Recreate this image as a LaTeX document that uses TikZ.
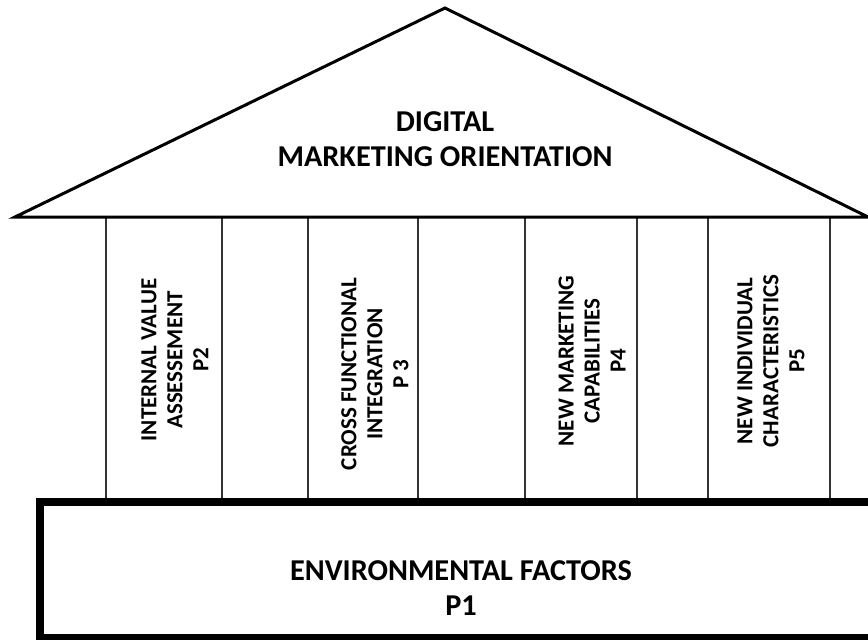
\documentclass[tikz,border=0pt]{standalone}
\usepackage{fontspec}
\setmainfont{Carlito}
\begin{document}
\begin{tikzpicture}[x=1pt,y=-1pt,
  roofline/.style={line width=3pt,line join=miter},
  pillar/.style={draw=black!80,line width=1.2pt},
  basebox/.style={draw=black,line width=8pt},
  bigtext/.style={font=\fontsize{30.3}{35}\selectfont\bfseries,align=center,inner sep=0pt},
  pillartext/.style={font=\fontsize{23}{26}\selectfont\bfseries,align=center,inner sep=0pt,rotate=90}]
  \useasboundingbox (0,0) rectangle (868,640);
  % roof
  \coordinate (apex) at (445,8);
  \coordinate (eaveL) at (15,217);
  \coordinate (eaveR) at (868,217);
  % pillars
  \draw[pillar] (106,217) rectangle (222,501);
  \draw[pillar] (308,217) rectangle (418,501);
  \draw[pillar] (525,217) rectangle (637,501);
  \draw[pillar] (708,217) rectangle (830,501);
  \draw[roofline] (eaveL) -- (apex) -- (eaveR) -- cycle;
  \node[bigtext] (roof) at (445,139.5) {DIGITAL\\MARKETING ORIENTATION};
  % base
  \draw[basebox] (39.5,501.5) rectangle (874,638);
  \node[bigtext] (base) at (461,588) {ENVIRONMENTAL FACTORS\\P1};
  % pillar labels
  \node[pillartext] (p2) at (175,360) {INTERNAL VALUE\\ASSESSEMENT\\P2};
  \node[pillartext] (p3) at (375,374) {CROSS FUNCTIONAL\\INTEGRATION\\P 3};
  \node[pillartext] (p4) at (592,361) {NEW MARKETING\\CAPABILITIES\\P4};
  \node[pillartext] (p5) at (771,361) {NEW INDIVIDUAL\\CHARACTERISTICS\\P5};
\end{tikzpicture}
\end{document}
